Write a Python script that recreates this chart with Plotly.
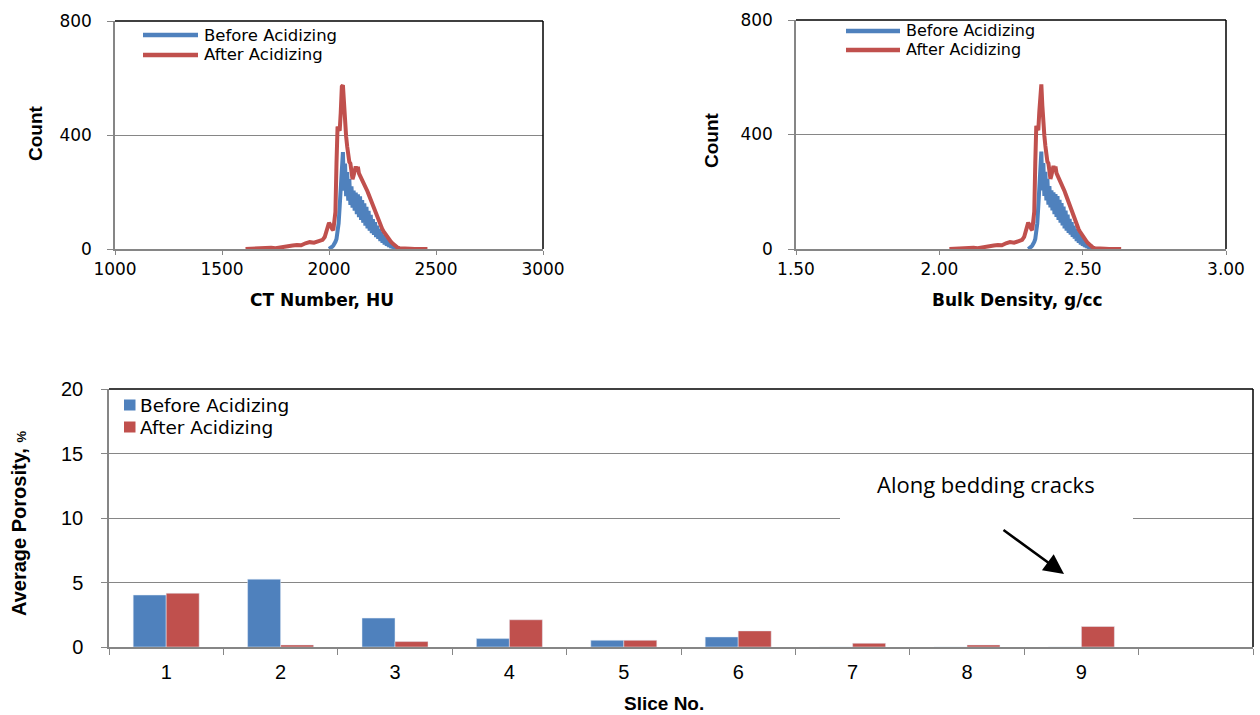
import plotly.graph_objects as go

# ---------------- data ----------------
series_names = ["Before Acidizing", "After Acidizing"]

ct_before = [2000, 2005, 2010, 2015, 2020, 2025, 2030, 2035, 2040, 2045, 2050, 2055, 2060, 2065,
             2070, 2075, 2080, 2085, 2090, 2095, 2100, 2105, 2110, 2115, 2120, 2125, 2130, 2135,
             2140, 2145, 2150, 2155, 2160, 2165, 2170, 2175, 2180, 2185, 2190, 2195, 2200, 2205,
             2210, 2215, 2220, 2225, 2230, 2235, 2240, 2245, 2250, 2255, 2260, 2265, 2270, 2275,
             2280, 2285, 2290, 2295, 2300, 2305, 2310, 2315, 2320, 2325, 2330]
count_before = [0, 2, 4, 8, 12, 16, 25, 35, 55, 90, 150, 240, 320, 340,
                205, 300, 185, 270, 170, 245, 155, 220, 145, 205, 135, 198, 122, 192,
                112, 185, 102, 172, 92, 160, 82, 148, 72, 134, 64, 120, 56, 105,
                50, 94, 42, 82, 36, 70, 28, 60, 22, 48, 16, 40, 11, 28,
                7, 20, 4, 13, 2, 9, 1, 5, 0, 2, 0]

ct_after = [1610, 1630, 1650, 1670, 1690, 1710, 1730, 1750, 1770, 1790, 1810, 1830, 1850, 1870,
            1890, 1910, 1930, 1950, 1960, 1970, 1980, 1985, 1990, 1995, 2000, 2005, 2010, 2015,
            2020, 2025, 2030, 2035, 2040, 2045, 2050, 2055, 2060, 2065, 2070, 2075, 2080, 2085,
            2090, 2095, 2100, 2105, 2110, 2115, 2120, 2125, 2130, 2135, 2140, 2145, 2150, 2155,
            2160, 2165, 2170, 2175, 2180, 2185, 2190, 2195, 2200, 2205, 2210, 2215, 2220, 2225,
            2230, 2235, 2240, 2245, 2250, 2255, 2260, 2265, 2270, 2275, 2280, 2285, 2290, 2295,
            2300, 2310, 2320, 2330, 2340, 2360, 2380, 2400, 2420, 2440, 2460]
count_after = [0, 1, 0, 2, 1, 3, 4, 3, 6, 8, 10, 12, 14, 13,
               20, 24, 22, 26, 28, 32, 42, 55, 68, 82, 92, 86, 72, 70,
               66, 95, 130, 300, 430, 420, 415, 480, 570, 575, 500, 430, 395, 360,
               322, 305, 300, 268, 245, 258, 282, 290, 272, 288, 265, 258, 245, 240,
               235, 225, 218, 210, 202, 192, 182, 172, 160, 152, 140, 130, 120, 110,
               100, 92, 84, 76, 68, 62, 56, 50, 45, 40, 35, 30, 25, 21,
               17, 10, 5, 3, 2, 1, 1, 0, 1, 0, 0]

# calibration CT number (HU) -> bulk density (g/cc)
rho_intercept = 0.90
rho_slope = 0.000705

slices = [1, 2, 3, 4, 5, 6, 7, 8, 9]
porosity_before = [4.03, 5.26, 2.24, 0.65, 0.52, 0.78, 0.0, 0.0, 0.0]
porosity_after = [4.17, 0.16, 0.42, 2.11, 0.52, 1.25, 0.29, 0.16, 1.59]

ct_ticks = [1000, 1500, 2000, 2500, 3000]
rho_ticks = [1.50, 2.00, 2.50, 3.00]
count_ticks = [0, 400, 800]
por_ticks = [0, 5, 10, 15, 20]

# ---------------- style ----------------
BLUE = "#4F81BD"
RED = "#C0504D"
GRID = "#868686"
W, H = 1260, 715

def px(x):
    return x / W

def py(y):
    return 1 - y / H

rho_before = [rho_intercept + rho_slope * c for c in ct_before]
rho_after = [rho_intercept + rho_slope * c for c in ct_after]

fig = go.Figure()
fig.add_trace(go.Scatter(x=ct_before, y=count_before, mode="lines", name=series_names[0],
                         line=dict(color=BLUE, width=4), xaxis="x", yaxis="y"))
fig.add_trace(go.Scatter(x=ct_after, y=count_after, mode="lines", name=series_names[1],
                         line=dict(color=RED, width=4), xaxis="x", yaxis="y"))
fig.add_trace(go.Scatter(x=rho_before, y=count_before, mode="lines", name=series_names[0],
                         line=dict(color=BLUE, width=4), xaxis="x2", yaxis="y2"))
fig.add_trace(go.Scatter(x=rho_after, y=count_after, mode="lines", name=series_names[1],
                         line=dict(color=RED, width=4), xaxis="x2", yaxis="y2"))
fig.add_trace(go.Bar(x=slices, y=porosity_before, name=series_names[0], marker_color=BLUE,
                     xaxis="x3", yaxis="y3"))
fig.add_trace(go.Bar(x=slices, y=porosity_after, name=series_names[1], marker_color=RED,
                     xaxis="x3", yaxis="y3"))

tickfont_top = dict(family="DejaVu Sans", size=17, color="black")
tickfont_bot = dict(family="Liberation Sans", size=20, color="black")

common_x = dict(showline=True, linecolor=GRID, linewidth=1.5, showgrid=False, zeroline=False,
                ticks="outside", tickcolor=GRID, tickwidth=1, ticklen=4, automargin=False)
common_y = dict(showline=True, linecolor=GRID, linewidth=1.5, showgrid=True, gridcolor=GRID,
                gridwidth=1.2, zeroline=False, ticks="outside", tickcolor=GRID, tickwidth=1,
                ticklen=6, automargin=False)

fig.update_layout(
    width=W, height=H, margin=dict(l=0, r=0, t=0, b=0, pad=0, autoexpand=False),
    paper_bgcolor="white", plot_bgcolor="white", showlegend=False,
    barmode="group", bargap=0.423, bargroupgap=0,
    xaxis=dict(domain=[px(115), px(543)], range=[1000, 3000], tickvals=ct_ticks,
               tickfont=tickfont_top, anchor="y", ticklabelstandoff=0, **common_x),
    yaxis=dict(domain=[py(249), py(21)], range=[0, 800], tickvals=count_ticks,
               tickfont=tickfont_top, anchor="x", ticklabelstandoff=12, **common_y),
    xaxis2=dict(domain=[px(796), px(1226)], range=[1.5, 3.0], tickvals=rho_ticks,
                tickformat=".2f", tickfont=tickfont_top, anchor="y2", ticklabelstandoff=0,
                **common_x),
    yaxis2=dict(domain=[py(249), py(20)], range=[0, 800], tickvals=count_ticks,
                tickfont=tickfont_top, anchor="x2", ticklabelstandoff=12, **common_y),
    xaxis3=dict(domain=[px(109), px(1253)], range=[0.5, 10.5], tickvals=slices,
                ticktext=[str(s) for s in slices], tickfont=tickfont_bot, anchor="y3",
                showline=True, linecolor=GRID, linewidth=1.5, showgrid=False, zeroline=False,
                ticks="", ticklabelstandoff=6, automargin=False,
                minor=dict(tickvals=[s - 0.5 for s in slices] + [9.5, 10.5], ticks="outside",
                           ticklen=6, tickcolor=GRID, tickwidth=1, showgrid=False)),
    yaxis3=dict(domain=[py(647), py(389)], range=[0, 20], tickvals=por_ticks,
                tickfont=tickfont_bot, anchor="x3", ticklabelstandoff=14, **common_y),
)

shapes = []
# black top/right frame borders
for xr, yr in (("x", "y"), ("x2", "y2"), ("x3", "y3")):
    shapes.append(dict(type="line", xref=f"{xr} domain", yref=f"{yr} domain", x0=0, x1=1,
                       y0=1, y1=1, line=dict(color="black", width=1.5)))
    shapes.append(dict(type="line", xref=f"{xr} domain", yref=f"{yr} domain", x0=1, x1=1,
                       y0=0, y1=1, line=dict(color="black", width=1.5)))
# white box behind the note
shapes.append(dict(type="rect", xref="paper", yref="paper", x0=px(840), x1=px(1133),
                   y0=py(523), y1=py(457), fillcolor="white", line=dict(width=0),
                   layer="above"))

annotations = []
# top legends (line samples)
for (lx0, lx1, tx, rows, fs) in ((143, 198, 203, (35, 55), 16.5), (846, 900, 905, (31, 50), 16)):
    for name, color, ry in zip(series_names, (BLUE, RED), rows):
        shapes.append(dict(type="line", xref="paper", yref="paper", x0=px(lx0), x1=px(lx1),
                           y0=py(ry), y1=py(ry), line=dict(color=color, width=4.5)))
        annotations.append(dict(text=name, xref="paper", yref="paper", x=px(tx), y=py(ry),
                                xanchor="left", yanchor="middle", showarrow=False,
                                borderpad=0,
                                font=dict(family="DejaVu Sans", size=fs, color="black")))
# bottom legend (squares)
for name, color, ry in zip(series_names, (BLUE, RED), (405, 427)):
    shapes.append(dict(type="rect", xref="paper", yref="paper", x0=px(124), x1=px(135.5),
                       y0=py(ry + 5.5), y1=py(ry - 5.5), fillcolor=color, line=dict(width=0)))
    annotations.append(dict(text=name, xref="paper", yref="paper", x=px(139), y=py(ry),
                            xanchor="left", yanchor="middle", showarrow=False, borderpad=0,
                            font=dict(family="DejaVu Sans", size=18.5, color="black")))

title_bold = dict(family="Liberation Sans Narrow, Liberation Sans", size=19, color="black",
                  weight="bold")
centered = dict(xref="paper", yref="paper", xanchor="center", yanchor="middle",
                showarrow=False, borderpad=0)
annotations += [
    dict(text="Count", x=px(35), y=py(133), textangle=-90, font=title_bold, **centered),
    dict(text="Count", x=px(711), y=py(140), textangle=-90, font=title_bold, **centered),
    dict(text="CT Number, HU", x=px(322), y=py(300),
         font=dict(family="DejaVu Sans", size=17, color="black", weight="bold"), **centered),
    dict(text="Bulk Density, g/cc", x=px(1017), y=py(300),
         font=dict(family="DejaVu Sans", size=17, color="black", weight="bold"), **centered),
    dict(text="Average Porosity, <span style='font-size:13px'>%</span>", x=px(19), y=py(524),
         textangle=-90, font=dict(family="Liberation Sans", size=20, color="black",
                                  weight="bold"), **centered),
    dict(text="Slice No.", x=px(664), y=py(703),
         font=dict(family="Liberation Sans Narrow, Liberation Sans", size=19, color="black",
                   weight="bold"), **centered),
    dict(text="Along bedding cracks", x=px(986), y=py(484),
         font=dict(family="Open Sans", size=22, color="black"), **centered),
    dict(text="", xref="paper", yref="paper", x=px(1064), y=py(574), ax=-62, ay=-45,
         showarrow=True, arrowhead=2, arrowsize=1.6, arrowwidth=2.5, arrowcolor="black"),
]

fig.update_layout(shapes=shapes, annotations=annotations)
fig.write_html("out.html")
